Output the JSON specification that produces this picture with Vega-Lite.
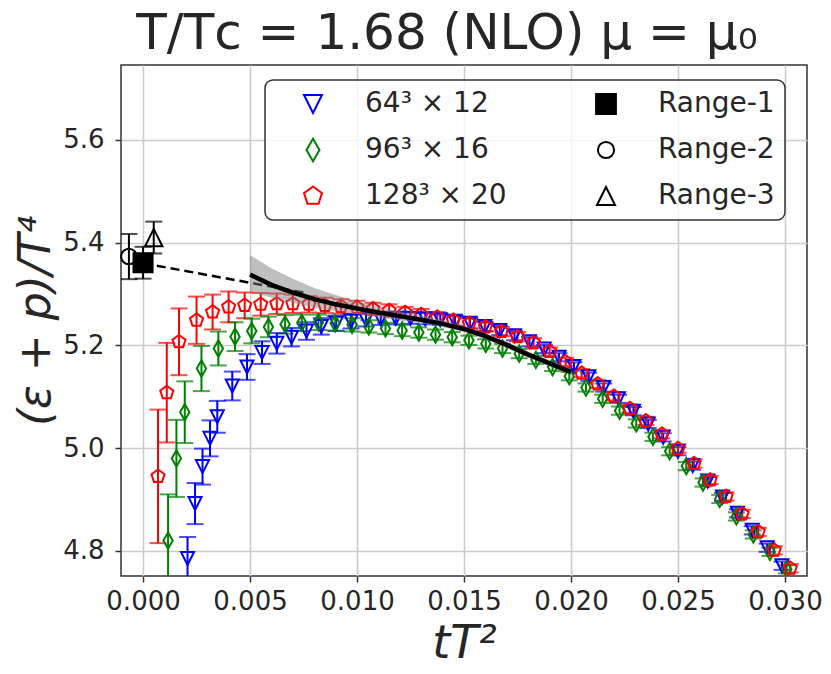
{
  "$schema": "https://vega.github.io/schema/vega-lite/v6.json",
  "width": 686,
  "height": 511,
  "autosize": {"type": "none"},
  "padding": {"left": 121, "top": 65, "right": 24, "bottom": 98},
  "background": "white",
  "title": {
    "text": "T/Tᴄ = 1.68 (NLO) μ = μ₀",
    "font": "DejaVu Sans",
    "fontSize": 50,
    "fontWeight": "normal",
    "color": "#262626",
    "offset": 6,
    "dx": -17
  },
  "datasets": {
    "points": [
      {"series": "64³ × 12", "t": 0.00208, "y": 4.785, "e": 0.042},
      {"series": "64³ × 12", "t": 0.00243, "y": 4.892, "e": 0.040},
      {"series": "64³ × 12", "t": 0.00278, "y": 4.964, "e": 0.035},
      {"series": "64³ × 12", "t": 0.00313, "y": 5.019, "e": 0.035},
      {"series": "64³ × 12", "t": 0.00347, "y": 5.061, "e": 0.031},
      {"series": "64³ × 12", "t": 0.00417, "y": 5.121, "e": 0.028},
      {"series": "64³ × 12", "t": 0.00486, "y": 5.158, "e": 0.025},
      {"series": "64³ × 12", "t": 0.00556, "y": 5.186, "e": 0.022},
      {"series": "64³ × 12", "t": 0.00625, "y": 5.204, "e": 0.020},
      {"series": "64³ × 12", "t": 0.00694, "y": 5.216, "e": 0.018},
      {"series": "64³ × 12", "t": 0.00764, "y": 5.228, "e": 0.017},
      {"series": "64³ × 12", "t": 0.00833, "y": 5.237, "e": 0.016},
      {"series": "64³ × 12", "t": 0.00903, "y": 5.243, "e": 0.015},
      {"series": "64³ × 12", "t": 0.00972, "y": 5.247, "e": 0.014},
      {"series": "64³ × 12", "t": 0.01042, "y": 5.250, "e": 0.013},
      {"series": "64³ × 12", "t": 0.01111, "y": 5.252, "e": 0.012},
      {"series": "64³ × 12", "t": 0.01181, "y": 5.253, "e": 0.012},
      {"series": "64³ × 12", "t": 0.01250, "y": 5.253, "e": 0.011},
      {"series": "64³ × 12", "t": 0.01319, "y": 5.252, "e": 0.011},
      {"series": "64³ × 12", "t": 0.01389, "y": 5.250, "e": 0.010},
      {"series": "64³ × 12", "t": 0.01458, "y": 5.247, "e": 0.010},
      {"series": "64³ × 12", "t": 0.01528, "y": 5.243, "e": 0.010},
      {"series": "64³ × 12", "t": 0.01597, "y": 5.237, "e": 0.009},
      {"series": "64³ × 12", "t": 0.01667, "y": 5.229, "e": 0.009},
      {"series": "64³ × 12", "t": 0.01736, "y": 5.219, "e": 0.009},
      {"series": "64³ × 12", "t": 0.01806, "y": 5.207, "e": 0.009},
      {"series": "64³ × 12", "t": 0.01875, "y": 5.193, "e": 0.008},
      {"series": "64³ × 12", "t": 0.01944, "y": 5.177, "e": 0.008},
      {"series": "64³ × 12", "t": 0.02014, "y": 5.159, "e": 0.008},
      {"series": "64³ × 12", "t": 0.02083, "y": 5.139, "e": 0.008},
      {"series": "64³ × 12", "t": 0.02153, "y": 5.118, "e": 0.008},
      {"series": "64³ × 12", "t": 0.02222, "y": 5.096, "e": 0.008},
      {"series": "64³ × 12", "t": 0.02292, "y": 5.072, "e": 0.008},
      {"series": "64³ × 12", "t": 0.02361, "y": 5.047, "e": 0.008},
      {"series": "64³ × 12", "t": 0.02431, "y": 5.021, "e": 0.008},
      {"series": "64³ × 12", "t": 0.02500, "y": 4.994, "e": 0.008},
      {"series": "64³ × 12", "t": 0.02569, "y": 4.966, "e": 0.008},
      {"series": "64³ × 12", "t": 0.02639, "y": 4.936, "e": 0.008},
      {"series": "64³ × 12", "t": 0.02708, "y": 4.905, "e": 0.008},
      {"series": "64³ × 12", "t": 0.02778, "y": 4.873, "e": 0.008},
      {"series": "64³ × 12", "t": 0.02847, "y": 4.840, "e": 0.008},
      {"series": "64³ × 12", "t": 0.02917, "y": 4.806, "e": 0.008},
      {"series": "64³ × 12", "t": 0.02986, "y": 4.771, "e": 0.008},
      {"series": "96³ × 16", "t": 0.00117, "y": 4.820, "e": 0.090},
      {"series": "96³ × 16", "t": 0.00156, "y": 4.980, "e": 0.075},
      {"series": "96³ × 16", "t": 0.00195, "y": 5.070, "e": 0.060},
      {"series": "96³ × 16", "t": 0.00273, "y": 5.155, "e": 0.044},
      {"series": "96³ × 16", "t": 0.00352, "y": 5.194, "e": 0.033},
      {"series": "96³ × 16", "t": 0.00430, "y": 5.217, "e": 0.028},
      {"series": "96³ × 16", "t": 0.00508, "y": 5.228, "e": 0.024},
      {"series": "96³ × 16", "t": 0.00586, "y": 5.236, "e": 0.020},
      {"series": "96³ × 16", "t": 0.00664, "y": 5.241, "e": 0.018},
      {"series": "96³ × 16", "t": 0.00742, "y": 5.244, "e": 0.016},
      {"series": "96³ × 16", "t": 0.00820, "y": 5.245, "e": 0.015},
      {"series": "96³ × 16", "t": 0.00898, "y": 5.243, "e": 0.014},
      {"series": "96³ × 16", "t": 0.00977, "y": 5.240, "e": 0.013},
      {"series": "96³ × 16", "t": 0.01055, "y": 5.237, "e": 0.012},
      {"series": "96³ × 16", "t": 0.01133, "y": 5.233, "e": 0.011},
      {"series": "96³ × 16", "t": 0.01211, "y": 5.229, "e": 0.011},
      {"series": "96³ × 16", "t": 0.01289, "y": 5.225, "e": 0.010},
      {"series": "96³ × 16", "t": 0.01367, "y": 5.221, "e": 0.010},
      {"series": "96³ × 16", "t": 0.01445, "y": 5.216, "e": 0.010},
      {"series": "96³ × 16", "t": 0.01523, "y": 5.210, "e": 0.009},
      {"series": "96³ × 16", "t": 0.01602, "y": 5.203, "e": 0.009},
      {"series": "96³ × 16", "t": 0.01680, "y": 5.194, "e": 0.009},
      {"series": "96³ × 16", "t": 0.01758, "y": 5.184, "e": 0.009},
      {"series": "96³ × 16", "t": 0.01836, "y": 5.172, "e": 0.008},
      {"series": "96³ × 16", "t": 0.01914, "y": 5.158, "e": 0.008},
      {"series": "96³ × 16", "t": 0.01992, "y": 5.140, "e": 0.008},
      {"series": "96³ × 16", "t": 0.02070, "y": 5.118, "e": 0.008},
      {"series": "96³ × 16", "t": 0.02148, "y": 5.096, "e": 0.008},
      {"series": "96³ × 16", "t": 0.02227, "y": 5.073, "e": 0.008},
      {"series": "96³ × 16", "t": 0.02305, "y": 5.048, "e": 0.008},
      {"series": "96³ × 16", "t": 0.02383, "y": 5.022, "e": 0.008},
      {"series": "96³ × 16", "t": 0.02461, "y": 4.994, "e": 0.008},
      {"series": "96³ × 16", "t": 0.02539, "y": 4.965, "e": 0.008},
      {"series": "96³ × 16", "t": 0.02617, "y": 4.933, "e": 0.008},
      {"series": "96³ × 16", "t": 0.02695, "y": 4.901, "e": 0.008},
      {"series": "96³ × 16", "t": 0.02773, "y": 4.867, "e": 0.008},
      {"series": "96³ × 16", "t": 0.02852, "y": 4.832, "e": 0.008},
      {"series": "96³ × 16", "t": 0.02930, "y": 4.798, "e": 0.008},
      {"series": "96³ × 16", "t": 0.03008, "y": 4.764, "e": 0.008},
      {"series": "128³ × 20", "t": 0.00070, "y": 4.945, "e": 0.130},
      {"series": "128³ × 20", "t": 0.00111, "y": 5.108, "e": 0.097},
      {"series": "128³ × 20", "t": 0.00168, "y": 5.207, "e": 0.065},
      {"series": "128³ × 20", "t": 0.00250, "y": 5.249, "e": 0.046},
      {"series": "128³ × 20", "t": 0.00325, "y": 5.265, "e": 0.034},
      {"series": "128³ × 20", "t": 0.00400, "y": 5.275, "e": 0.030},
      {"series": "128³ × 20", "t": 0.00475, "y": 5.278, "e": 0.025},
      {"series": "128³ × 20", "t": 0.00550, "y": 5.280, "e": 0.022},
      {"series": "128³ × 20", "t": 0.00625, "y": 5.281, "e": 0.020},
      {"series": "128³ × 20", "t": 0.00700, "y": 5.281, "e": 0.018},
      {"series": "128³ × 20", "t": 0.00775, "y": 5.280, "e": 0.016},
      {"series": "128³ × 20", "t": 0.00850, "y": 5.278, "e": 0.015},
      {"series": "128³ × 20", "t": 0.00925, "y": 5.276, "e": 0.014},
      {"series": "128³ × 20", "t": 0.01000, "y": 5.274, "e": 0.013},
      {"series": "128³ × 20", "t": 0.01075, "y": 5.271, "e": 0.012},
      {"series": "128³ × 20", "t": 0.01150, "y": 5.268, "e": 0.012},
      {"series": "128³ × 20", "t": 0.01225, "y": 5.264, "e": 0.011},
      {"series": "128³ × 20", "t": 0.01300, "y": 5.260, "e": 0.011},
      {"series": "128³ × 20", "t": 0.01375, "y": 5.255, "e": 0.010},
      {"series": "128³ × 20", "t": 0.01450, "y": 5.249, "e": 0.010},
      {"series": "128³ × 20", "t": 0.01525, "y": 5.243, "e": 0.010},
      {"series": "128³ × 20", "t": 0.01600, "y": 5.236, "e": 0.009},
      {"series": "128³ × 20", "t": 0.01675, "y": 5.227, "e": 0.009},
      {"series": "128³ × 20", "t": 0.01750, "y": 5.217, "e": 0.009},
      {"series": "128³ × 20", "t": 0.01825, "y": 5.205, "e": 0.009},
      {"series": "128³ × 20", "t": 0.01900, "y": 5.188, "e": 0.008},
      {"series": "128³ × 20", "t": 0.01975, "y": 5.168, "e": 0.008},
      {"series": "128³ × 20", "t": 0.02050, "y": 5.146, "e": 0.008},
      {"series": "128³ × 20", "t": 0.02125, "y": 5.125, "e": 0.008},
      {"series": "128³ × 20", "t": 0.02200, "y": 5.101, "e": 0.008},
      {"series": "128³ × 20", "t": 0.02275, "y": 5.077, "e": 0.008},
      {"series": "128³ × 20", "t": 0.02350, "y": 5.053, "e": 0.008},
      {"series": "128³ × 20", "t": 0.02425, "y": 5.027, "e": 0.008},
      {"series": "128³ × 20", "t": 0.02500, "y": 4.999, "e": 0.008},
      {"series": "128³ × 20", "t": 0.02575, "y": 4.970, "e": 0.008},
      {"series": "128³ × 20", "t": 0.02650, "y": 4.938, "e": 0.008},
      {"series": "128³ × 20", "t": 0.02725, "y": 4.906, "e": 0.008},
      {"series": "128³ × 20", "t": 0.02800, "y": 4.872, "e": 0.008},
      {"series": "128³ × 20", "t": 0.02875, "y": 4.837, "e": 0.008},
      {"series": "128³ × 20", "t": 0.02950, "y": 4.801, "e": 0.008},
      {"series": "128³ × 20", "t": 0.03025, "y": 4.766, "e": 0.008},
      {"series": "Range-1", "t": 0.0, "y": 5.361, "e": 0.031},
      {"series": "Range-2", "t": -0.00066, "y": 5.373, "e": 0.044},
      {"series": "Range-3", "t": 0.0005, "y": 5.41, "e": 0.031}
    ],
    "extrap": [
      {"t": 0.0, "y": 5.36},
      {"t": 0.0075, "y": 5.303}
    ],
    "fit": [
      {"t": 0.0050, "y": 5.338, "lo": 5.305, "hi": 5.376},
      {"t": 0.0060, "y": 5.318, "lo": 5.293, "hi": 5.350},
      {"t": 0.0070, "y": 5.303, "lo": 5.283, "hi": 5.330},
      {"t": 0.0080, "y": 5.290, "lo": 5.274, "hi": 5.312},
      {"t": 0.0090, "y": 5.280, "lo": 5.267, "hi": 5.298},
      {"t": 0.0100, "y": 5.272, "lo": 5.261, "hi": 5.286},
      {"t": 0.0110, "y": 5.264, "lo": 5.255, "hi": 5.275},
      {"t": 0.0120, "y": 5.257, "lo": 5.249, "hi": 5.266},
      {"t": 0.0130, "y": 5.250, "lo": 5.243, "hi": 5.258},
      {"t": 0.0140, "y": 5.242, "lo": 5.236, "hi": 5.249},
      {"t": 0.0150, "y": 5.232, "lo": 5.226, "hi": 5.238},
      {"t": 0.0160, "y": 5.218, "lo": 5.212, "hi": 5.224},
      {"t": 0.0170, "y": 5.201, "lo": 5.195, "hi": 5.207},
      {"t": 0.0180, "y": 5.182, "lo": 5.176, "hi": 5.188},
      {"t": 0.0190, "y": 5.165, "lo": 5.159, "hi": 5.171},
      {"t": 0.0200, "y": 5.148, "lo": 5.142, "hi": 5.154}
    ]
  },
  "layer": [
    {
      "data": {"name": "points"},
      "mark": {"type": "errorbar", "ticks": true, "size": 17, "thickness": 2, "clip": true},
      "encoding": {
        "x": {
          "field": "t", "type": "quantitative",
          "scale": {"domain": [-0.00103, 0.03103], "nice": false, "zero": false},
          "axis": {"title": "tT²", "values": [0, 0.005, 0.01, 0.015, 0.02, 0.025, 0.03], "format": ".3f", "titleFontStyle": "italic"}
        },
        "y": {
          "field": "y", "type": "quantitative",
          "scale": {"domain": [4.751, 5.746], "nice": false, "zero": false},
          "axis": {"title": "(ε + p)/T⁴", "values": [4.8, 5.0, 5.2, 5.4, 5.6], "format": ".1f", "titleFontStyle": "italic"}
        },
        "yError": {"field": "e"},
        "color": {
          "field": "series", "type": "nominal",
          "scale": {
            "domain": ["128³ × 20", "64³ × 12", "96³ × 16", "Range-1", "Range-2", "Range-3"],
            "range": ["#ff0000", "#0000ff", "#008000", "#000000", "#000000", "#000000"]
          },
          "legend": null
        }
      }
    },
    {
      "data": {"name": "points"},
      "transform": [{"filter": "indexof(datum.series, 'Range') < 0"}],
      "mark": {"type": "point", "size": 170, "strokeWidth": 2, "opacity": 1, "clip": true},
      "encoding": {
        "x": {"field": "t", "type": "quantitative"},
        "y": {"field": "y", "type": "quantitative"},
        "shape": {
          "field": "series", "type": "nominal",
          "scale": {
            "domain": ["64³ × 12", "96³ × 16", "128³ × 20", "Range-1", "Range-2", "Range-3"],
            "range": [
              "M-1,-1L1,-1L0,1Z",
              "M0,-1.25L0.72,0L0,1.25L-0.72,0Z",
              "M0,-1.05L1,-0.32L0.62,0.85L-0.62,0.85L-1,-0.32Z",
              "M-1.1,-1.1L1.1,-1.1L1.1,1.1L-1.1,1.1Z",
              "M0.9,0A0.9,0.9,0,1,1,-0.9,0A0.9,0.9,0,1,1,0.9,0Z",
              "M-1,1L1,1L0,-1Z"
            ]
          },
          "legend": {
            "title": null,
            "orient": "none",
            "legendX": 144,
            "legendY": 15,
            "columns": 2
          }
        },
        "stroke": {
          "field": "series", "type": "nominal",
          "scale": {
            "domain": ["64³ × 12", "96³ × 16", "128³ × 20", "Range-1", "Range-2", "Range-3"],
            "range": ["#0000ff", "#008000", "#ff0000", "#000000", "#000000", "#000000"]
          }
        },
        "fill": {
          "field": "series", "type": "nominal",
          "scale": {
            "domain": ["64³ × 12", "96³ × 16", "128³ × 20", "Range-1", "Range-2", "Range-3"],
            "range": ["transparent", "transparent", "transparent", "#000000", "transparent", "transparent"]
          }
        }
      }
    },
    {
      "data": {"name": "points"},
      "transform": [{"filter": "indexof(datum.series, 'Range') === 0"}],
      "mark": {"type": "point", "size": 300, "strokeWidth": 2, "opacity": 1},
      "encoding": {
        "x": {"field": "t", "type": "quantitative"},
        "y": {"field": "y", "type": "quantitative"},
        "shape": {"field": "series", "type": "nominal"},
        "stroke": {"field": "series", "type": "nominal"},
        "fill": {"field": "series", "type": "nominal"}
      }
    },
    {
      "data": {"name": "extrap"},
      "mark": {"type": "line", "color": "black", "strokeWidth": 2.5, "strokeDash": [9, 5]},
      "encoding": {
        "x": {"field": "t", "type": "quantitative"},
        "y": {"field": "y", "type": "quantitative"}
      }
    },
    {
      "data": {"name": "fit"},
      "mark": {"type": "area", "color": "#808080", "opacity": 0.5},
      "encoding": {
        "x": {"field": "t", "type": "quantitative"},
        "y": {"field": "lo", "type": "quantitative"},
        "y2": {"field": "hi"}
      }
    },
    {
      "data": {"name": "fit"},
      "mark": {"type": "line", "color": "black", "strokeWidth": 4.5},
      "encoding": {
        "x": {"field": "t", "type": "quantitative"},
        "y": {"field": "y", "type": "quantitative"}
      }
    }
  ],
  "config": {
    "view": {"stroke": "#333333", "strokeWidth": 1.5},
    "axis": {
      "grid": true,
      "gridColor": "#cccccc",
      "gridWidth": 1.6,
      "domain": false,
      "tickColor": "#333333",
      "tickSize": 6,
      "tickWidth": 1.5,
      "labelFont": "DejaVu Sans",
      "labelFontSize": 26,
      "labelColor": "#262626",
      "titleFont": "DejaVu Sans",
      "titleFontWeight": "normal",
      "titleColor": "#262626"
    },
    "axisX": {"labelPadding": 6, "titleFontSize": 46, "titlePadding": 7, "labelFlush": false},
    "axisY": {"labelPadding": 11, "titleFontSize": 44, "titlePadding": 4},
    "legend": {
      "padding": 10,
      "cornerRadius": 8,
      "strokeColor": "#333333",
      "strokeWidth": 1.5,
      "fillColor": "rgba(255,255,255,0.8)",
      "labelFont": "DejaVu Sans",
      "labelFontSize": 28,
      "labelColor": "#262626",
      "labelLimit": 300,
      "symbolSize": 324,
      "symbolStrokeWidth": 2,
      "symbolOffset": 24,
      "labelOffset": 38,
      "rowPadding": 16,
      "columnPadding": 61
    }
  }
}
